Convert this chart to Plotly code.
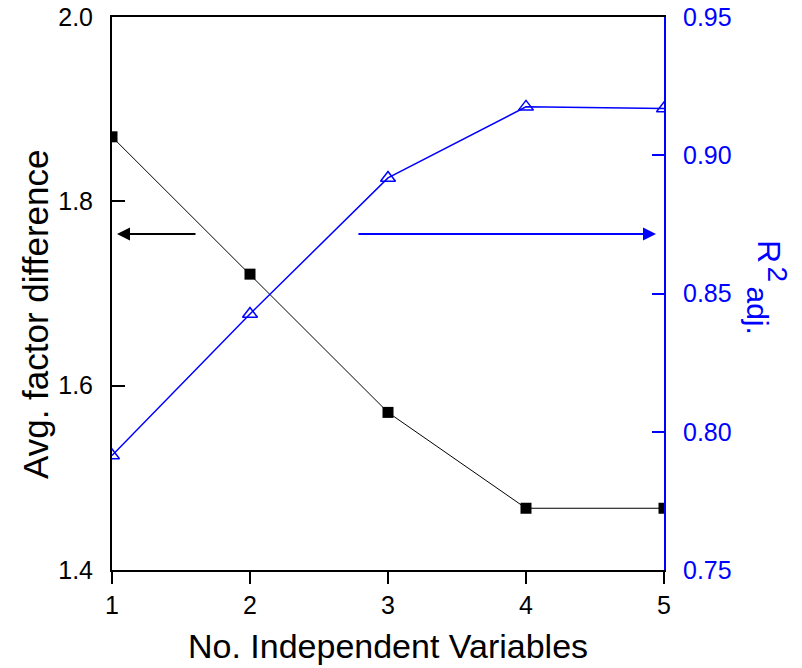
import plotly.graph_objects as go

# Number of independent variables in the regression model
n_vars = [1, 2, 3, 4, 5]
# Average factor difference (left axis)
avg_factor_diff = [1.870, 1.721, 1.571, 1.467, 1.467]
# Adjusted coefficient of determination (right axis)
r2_adj = [0.7914, 0.8426, 0.8918, 0.9175, 0.9169]

x_ticks = [1, 2, 3, 4, 5]
left_ticks = [1.4, 1.6, 1.8, 2.0]
right_ticks = [0.75, 0.80, 0.85, 0.90, 0.95]

BLUE = "#0000FF"
FONT = "Liberation Sans, Arial, sans-serif"

fig = go.Figure()

fig.add_trace(go.Scatter(
    x=n_vars, y=avg_factor_diff, mode="lines+markers",
    line=dict(color="black", width=1),
    marker=dict(symbol="square", size=11, color="black"),
    yaxis="y", showlegend=False,
))

fig.add_trace(go.Scatter(
    x=n_vars, y=r2_adj, mode="lines+markers",
    line=dict(color=BLUE, width=1.5),
    marker=dict(symbol="triangle-up-open", size=13, color=BLUE,
                line=dict(color=BLUE, width=1.5)),
    yaxis="y2", showlegend=False,
))

# Arrows pointing at the axis each curve belongs to
fig.add_annotation(x=1.036, y=1.7645, ax=1.616, ay=1.7645,
                   xref="x", yref="y", axref="x", ayref="y",
                   text="", showarrow=True, arrowhead=2, arrowsize=1.3,
                   arrowwidth=2, arrowcolor="black")
fig.add_annotation(x=4.942, y=1.7645, ax=2.775, ay=1.7645,
                   xref="x", yref="y", axref="x", ayref="y",
                   text="", showarrow=True, arrowhead=2, arrowsize=1.3,
                   arrowwidth=2, arrowcolor=BLUE)

# Left-axis title
fig.add_annotation(text="Avg. factor difference", x=-0.1395, y=0.4629,
                   xref="paper", yref="paper", xanchor="center", yanchor="middle",
                   textangle=-90, showarrow=False,
                   font=dict(family=FONT, size=35, color="black"))

# Right-axis title R²adj., reading top to bottom
for txt, xp, yp, fs in [("R", 1.1902, 0.5750, 32),
                        ("2", 1.2065, 0.5344, 28),
                        ("adj.", 1.1694, 0.4702, 30)]:
    fig.add_annotation(text=txt, x=xp, y=yp, xref="paper", yref="paper",
                       xanchor="center", yanchor="middle", textangle=90,
                       showarrow=False, font=dict(family=FONT, size=fs, color=BLUE))

fig.update_layout(
    width=802, height=668,
    margin=dict(l=112, r=138, t=17, b=98),
    paper_bgcolor="white", plot_bgcolor="white",
    font=dict(family=FONT, color="black"),
    xaxis=dict(
        range=[1, 5], tickvals=x_ticks, ticks="outside", ticklen=12, tickwidth=2,
        tickcolor="black", showline=True, linecolor="black", linewidth=2,
        mirror=True, showgrid=False, zeroline=False, automargin=False,
        tickfont=dict(size=25, color="black"),
        title=dict(text="No. Independent Variables", font=dict(size=34), standoff=16),
    ),
    yaxis=dict(
        range=[1.4, 2.0], tickvals=left_ticks, tickformat=".1f",
        ticks="inside", ticklen=13, tickwidth=2, tickcolor="black",
        showline=True, linecolor="black", linewidth=2, showgrid=False,
        zeroline=False, ticklabelstandoff=12, automargin=False,
        tickfont=dict(size=25, color="black"),
    ),
    yaxis2=dict(
        range=[0.75, 0.95], tickvals=right_ticks, tickformat=".2f",
        overlaying="y", side="right", anchor="x",
        ticks="inside", ticklen=12, tickwidth=2, tickcolor=BLUE,
        showline=True, linecolor=BLUE, linewidth=2, showgrid=False,
        zeroline=False, ticklabelstandoff=12, automargin=False,
        tickfont=dict(size=25, color=BLUE),
    ),
)

fig.write_html("out.html")
